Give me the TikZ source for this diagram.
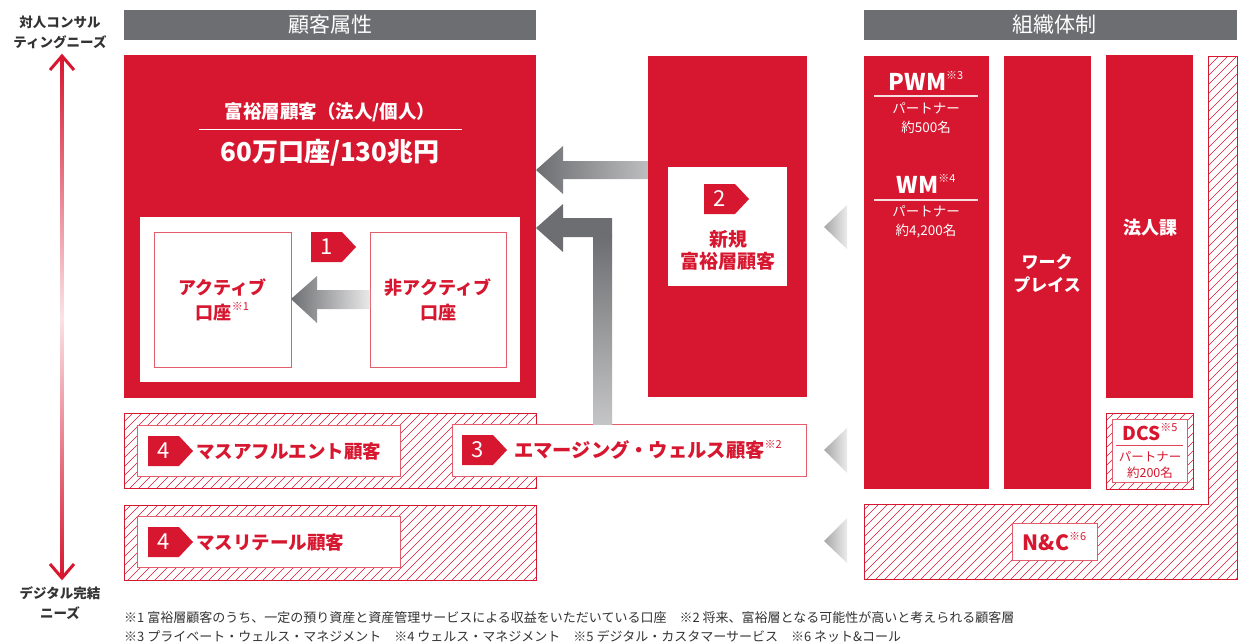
\documentclass[tikz,border=0pt]{standalone}
\usepackage{fontspec}
\setmainfont{Noto Sans CJK JP}
\usetikzlibrary{fit}
\definecolor{nred}{HTML}{D7172F}
\definecolor{hgray}{HTML}{6D6E71}
\definecolor{tgray}{HTML}{333333}
\newcommand\fs[1]{\fontsize{#1}{#1}\selectfont}
\newcommand\nt[1]{\raisebox{0.5em}{\fontsize{11}{11}\selectfont\mdseries #1}}
\newcommand\hatchlines{\foreach \i in {-639,-630,...,1240} {\draw[nred, line width=0.5pt] (\i,645) -- ++(650,-650);}}
\begin{document}
\begin{tikzpicture}[x=1pt,y=-1pt,
  box/.style={inner sep=0pt, outer sep=0pt},
  redfill/.style={box, fill=nred},
  wframe/.style={box, fill=white, draw=nred!70, line width=0.8pt},
  hatchframe/.style={box, draw=nred, line width=0.8pt},
  headbar/.style={box, fill=hgray},
  wt/.style={text=white, align=center, inner sep=0pt},
  rt/.style={text=nred, align=center, inner sep=0pt},
  tri/.style={left color=black!35, right color=black!8},
  pics/badge/.style={code={
    \fill[nred] (0,-15) -- (31,-15) -- (45,0) -- (31,15) -- (0,15) -- cycle;
    \node[text=white, inner sep=0pt, font=\fs{22}] (-n) at (16,0) {#1};
  }}
]
\useasboundingbox (0,0) rectangle (1239,641);

% hatched backgrounds
\begin{scope}
  \clip (124,413) rectangle (536,488) (124,505) rectangle (536,580)
        (1106,413) rectangle (1193,489)
        (1208,56) -- (1237,56) -- (1237,579) -- (864,579) -- (864,504) -- (1208,504) -- cycle;
  \hatchlines
\end{scope}
\draw[nred, line width=0.8pt] (1208,56) -- (1237,56) -- (1237,579) -- (864,579) -- (864,504) -- (1208,504) -- cycle;

% headers
\node[headbar, fit={(124,10)(536,40)}] (hdL) {};
\node[wt, font=\fs{21}] (hdLt) at (hdL.center) {顧客属性};
\node[headbar, fit={(864,10)(1237,40)}] (hdR) {};
\node[wt, font=\fs{21}] (hdRt) at ([xshift=4pt]hdR.center) {組織体制};

% left needs axis
\node[text=tgray, align=center, inner sep=0pt, font=\bfseries\fontsize{13.5}{20}\selectfont] (needT) at (60,32) {対人コンサル\\ティングニーズ};
\node[text=tgray, align=center, inner sep=0pt, font=\bfseries\fontsize{13.5}{20}\selectfont] (needB) at (60,603) {デジタル完結\\ニーズ};
\coordinate (upTip) at (62,57);
\coordinate (dnTip) at (62,577);
\shade[top color=nred, bottom color=nred, middle color=nred!12] ([xshift=-1.5pt]upTip) rectangle ([xshift=1.5pt]dnTip);
\draw[nred, line width=3pt] ([shift={(-12,13)}]upTip) -- ([yshift=1pt]upTip) -- ([shift={(12,13)}]upTip);
\draw[nred, line width=3pt] ([shift={(-12,-13)}]dnTip) -- ([yshift=-1pt]dnTip) -- ([shift={(12,-13)}]dnTip);

% main rich box
\node[redfill, fit={(124,55)(536,398)}] (rich) {};
\node[wt, font=\bfseries\fs{18.5}] (richT) at (330,112) {富裕層顧客（法人/個人）};
\draw[white, line width=1pt] (199,129) -- (462,129);
\node[wt, font=\bfseries\fs{26}] (richN) at (330,153) {60万口座/130兆円};
\node[box, fill=white, fit={(140,217)(520,382)}] (inner) {};
\node[wframe, fit={(154,232)(291,367)}] (act) {};
\node[rt, font=\bfseries\fontsize{18}{25}\selectfont] (actT) at (act.center) {アクティブ\\口座\nt{※1}};
\node[wframe, fit={(370,232)(506,367)}] (nact) {};
\node[rt, font=\bfseries\fontsize{18}{25}\selectfont] (nactT) at (nact.center) {非アクティブ\\口座};
\pic (b1) at (311,247) {badge=1};
\shade[left color=hgray, right color=hgray!15]
  (act.east |- 0,299) -- (317,276) -- (317,290) -- (nact.west |- 0,290) -- (nact.west |- 0,309) -- (317,309) -- (317,323) -- cycle;

% new rich column
\node[redfill, fit={(648,56)(807,397)}] (newc) {};
\node[box, fill=white, fit={(668,167)(787,286)}] (newb) {};
\pic (b2) at (704,199) {badge=2};
\node[rt, font=\bfseries\fontsize{19}{22}\selectfont] (newT) at (728,250) {新規\\富裕層顧客};

% arrow from new column to rich box
\shade[left color=hgray, right color=hgray!45]
  (rich.east |- 0,170) -- (563,146) -- (563,161) -- (newc.west |- 0,161) -- (newc.west |- 0,179) -- (563,179) -- (563,194) -- cycle;

% mass affluent
\node[hatchframe, fit={(124,413)(536,488)}] (affH) {};
\node[wframe, fit={(137,425)(400,476)}] (aff) {};
\pic (b4a) at (148,451) {badge=4};
\node[rt, anchor=west, font=\bfseries\fs{18.5}] (affT) at (196,451) {マスアフルエント顧客};

% emerging wealth box
\node[wframe, fit={(452,424)(806,476)}] (emerg) {};
\pic (b3) at (462,450) {badge=3};
\node[rt, anchor=west, font=\bfseries\fs{19.3}] (emergT) at (514,450) {エマージング・ウェルス顧客\nt{※2}};

% bent arrow
\fill[hgray] (rich.east |- 0,228) -- (563,204) -- (563,218) -- (612,218) -- (612,237) -- (593,237) -- (563,237) -- (563,252) -- cycle;
\shade[top color=hgray, bottom color=hgray!40] (593,236.5) rectangle (612,0 |- emerg.north);

% mass retail
\node[hatchframe, fit={(124,505)(536,580)}] (retH) {};
\node[wframe, fit={(137,516)(400,567)}] (ret) {};
\pic (b4b) at (148,542) {badge=4};
\node[rt, anchor=west, font=\bfseries\fs{18.5}] (retT) at (196,542) {マスリテール顧客};

% gray triangles
\shade[tri] (847,205) -- (824,227) -- (847,249) -- cycle;
\shade[tri] (847,428) -- (824,450) -- (847,473) -- cycle;
\shade[tri] (847,518) -- (824,541) -- (847,563) -- cycle;

% organisation
\node[redfill, fit={(864,56)(989,489)}] (pwm) {};
\node[redfill, fit={(1004,56)(1091,489)}] (wp) {};
\node[redfill, fit={(1106,55)(1193,398)}] (corp) {};
\node[hatchframe, fit={(1106,413)(1193,489)}] (dcsH) {};
\node[wframe, fit={(1112,419)(1187,482)}] (dcs) {};
\node[wframe, fit={(1012,523)(1097,560)}] (nc) {};

\node[wt, font=\bfseries\fs{23}] (pwmT) at (926,81) {PWM\nt{※3}};
\draw[white!85!nred, line width=1.2pt] (874,96) -- (978,96);
\node[wt, font=\fontsize{13.5}{19}\selectfont] (pwmP) at (926,118) {パートナー\\約500名};
\node[wt, font=\bfseries\fs{23}] (wmT) at (926,184) {WM\nt{※4}};
\draw[white!85!nred, line width=1.2pt] (874,200) -- (978,200);
\node[wt, font=\fontsize{13.5}{19}\selectfont] (wmP) at (926,222) {パートナー\\約4,200名};
\node[wt, font=\bfseries\fontsize{17}{23}\selectfont] (wpT) at (1047,273) {ワーク\\プレイス};
\node[wt, font=\bfseries\fs{18}] (corpT) at (1150,228) {法人課};
\node[rt, font=\bfseries\fs{19}] (dcsT) at (1150,432) {DCS\nt{※5}};
\draw[nred!80, line width=1pt] (1116,445) -- (1183,445);
\node[rt, font=\fontsize{12.5}{16}\selectfont] (dcsP) at (1150,465) {パートナー\\約200名};
\node[rt, font=\bfseries\fs{21}] (ncT) at (nc.center) {N\&C\nt{※6}};

% footnotes
\node[text=tgray, anchor=west, inner sep=0pt, font=\fs{13}] (fn1) at (124,618) {※1 富裕層顧客のうち、一定の預り資産と資産管理サービスによる収益をいただいている口座　※2 将来、富裕層となる可能性が高いと考えられる顧客層};
\node[text=tgray, anchor=west, inner sep=0pt, font=\fs{13}] (fn2) at (124,636) {※3 プライベート・ウェルス・マネジメント　※4 ウェルス・マネジメント　※5 デジタル・カスタマーサービス　※6 ネット\&コール};
\end{tikzpicture}
\end{document}
